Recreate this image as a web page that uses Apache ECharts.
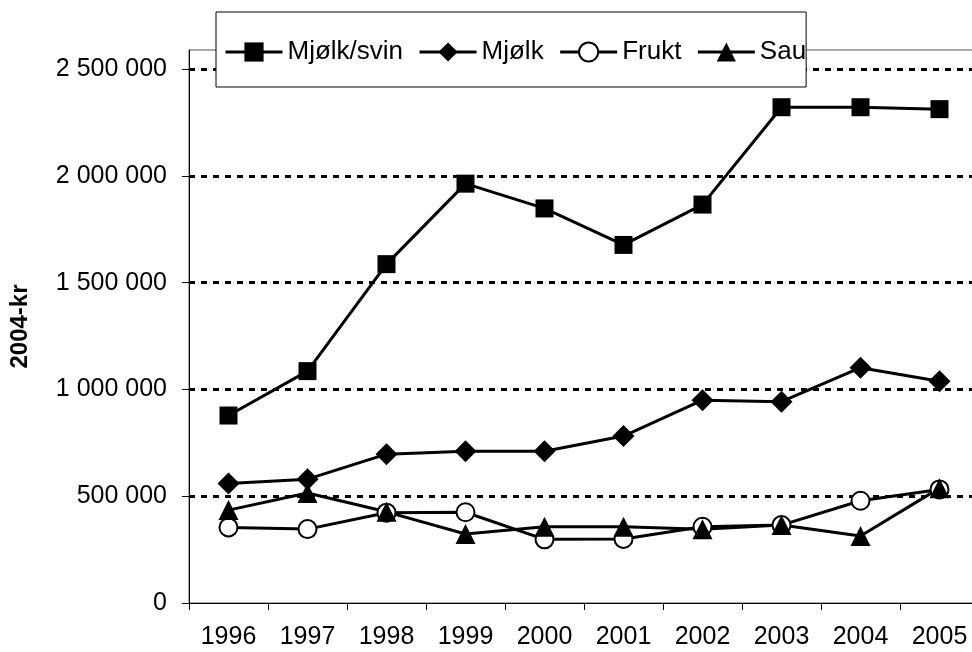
<!DOCTYPE html>
<html>
<head>
<meta charset="utf-8">
<title>2004-kr</title>
<script src="https://cdn.jsdelivr.net/npm/echarts@6/dist/echarts.min.js"></script>
<style>
  html, body { margin: 0; padding: 0; background: #fff; }
  #chart { width: 972px; height: 652px; }
</style>
</head>
<body>
<div id="chart"></div>
<script>
// kategoriar (år)
const years = ["1996", "1997", "1998", "1999", "2000", "2001", "2002", "2003", "2004", "2005"];

// seriar, 2004-kr
const mjolkSvin = [878000, 1086000, 1587000, 1964000, 1848000, 1677000, 1866000, 2322000, 2322000, 2313000];
const mjolk = [560000, 580000, 697000, 711000, 711000, 782000, 950000, 943000, 1102000, 1039000];
const frukt = [354000, 346000, 423000, 425000, 298000, 300000, 357000, 365000, 479000, 532000];
const sau = [435000, 515000, 427000, 323000, 357000, 357000, 345000, 365000, 314000, 538000];

// y-aksen sine merke
const yTicks = [0, 500000, 1000000, 1500000, 2000000, 2500000];

const fontFamily = "'Liberation Sans', Arial, sans-serif";

const chart = echarts.init(document.getElementById("chart"));

function fmt(v) {
  return String(v).replace(/\B(?=(\d{3})+(?!\d))/g, " ");
}

function lineSeries(name, data, symbol, size, fill) {
  return {
    name: name,
    type: "line",
    data: data,
    symbol: symbol,
    symbolSize: size,
    showSymbol: true,
    lineStyle: { color: "#000", width: 3 },
    itemStyle: {
      color: fill,
      borderColor: "#000",
      borderWidth: fill === "#fff" ? 2 : 0,
    },
    emphasis: { disabled: true },
  };
}

const option = {
  animation: false,
  backgroundColor: "#fff",
  textStyle: { fontFamily: fontFamily, color: "#000" },
  grid: {
    left: 189,
    width: 790,
    top: 50,
    bottom: 49,
    outerBoundsMode: "none",
    containLabel: false,
    show: true,
    borderColor: "#555",
    borderWidth: 1,
    backgroundColor: "#fff",
  },
  legend: {
    left: 216,
    top: 12,
    padding: [27, 0, 22, 8],
    itemGap: 15,
    itemWidth: 57,
    itemHeight: 24,
    backgroundColor: "#fff",
    borderColor: "#000",
    borderWidth: 1,
    lineStyle: { width: 3 },
    textStyle: { fontSize: 26, color: "#000", fontFamily: fontFamily },
    data: ["Mjølk/svin", "Mjølk", "Frukt", "Sau"],
  },
  xAxis: {
    type: "category",
    data: years,
    boundaryGap: true,
    axisLine: { lineStyle: { color: "#000", width: 1 } },
    axisTick: { show: true, length: 7, lineStyle: { color: "#000" } },
    axisLabel: { fontSize: 25, color: "#000", margin: 22 },
    splitLine: { show: false },
  },
  yAxis: {
    type: "value",
    min: 0,
    max: 2590000,
    name: "2004-kr",
    nameLocation: "middle",
    nameGap: 157,
    nameRotate: 90,
    nameTextStyle: { fontSize: 24, fontWeight: "bold", color: "#000" },
    axisLine: { show: true, lineStyle: { color: "#000", width: 1 } },
    axisTick: { show: true, length: 7, customValues: yTicks, lineStyle: { color: "#000" } },
    axisLabel: {
      fontSize: 25,
      color: "#000",
      margin: 22,
      customValues: yTicks,
      formatter: fmt,
    },
    splitLine: {
      show: true,
      showMinLine: false,
      lineStyle: { color: "#000", width: 3, type: [6, 6] },
    },
  },
  series: [
    lineSeries("Mjølk/svin", mjolkSvin, "rect", 18, "#000"),
    lineSeries("Mjølk", mjolk, "diamond", 22, "#000"),
    lineSeries("Frukt", frukt, "circle", 18, "#fff"),
    lineSeries("Sau", sau, "triangle", 20, "#000"),
  ],
};

chart.setOption(option);
</script>
</body>
</html>
